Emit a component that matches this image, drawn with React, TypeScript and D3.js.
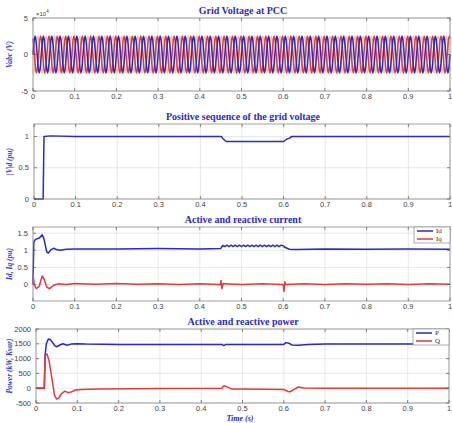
import { scaleLinear, line } from "d3";

// x axis (time, s)
const timeTicks = [0, 0.1, 0.2, 0.3, 0.4, 0.5, 0.6, 0.7, 0.8, 0.9, 1];

// grid voltage at PCC: one 50 Hz cycle (x10^4 V), tiled
const cycleCount = 50;
const vaCycle = [0, 1.25, 2.17, 2.5, 2.17, 1.25, 0, -1.25, -2.17, -2.5, -2.17, -1.25];
const phaseShift = [0, 4, 8];
const vabcTicks = [-5, 0, 5];

// positive sequence |V|d (pu)
const vdTime = [0, 0.022, 0.024, 0.04, 0.1, 0.45, 0.455, 0.462, 0.6, 0.604, 0.608, 0.613, 0.62, 1];
const vdVal = [0, 0, 1.0, 1.01, 1.0, 1.0, 0.96, 0.92, 0.92, 0.94, 0.96, 0.97, 1.0, 1.0];
const vdTicks = [0, 0.5, 1];

// Id, Iq (pu)
const idTime = [0, 0.002, 0.006, 0.015, 0.022, 0.026, 0.033, 0.037, 0.043, 0.05, 0.056, 0.065, 0.08, 0.1, 0.2, 0.3, 0.4, 0.45,
  0.455, 0.46, 0.465, 0.47, 0.475, 0.48, 0.485, 0.49, 0.495, 0.5, 0.505, 0.51, 0.515, 0.52, 0.525, 0.53, 0.535, 0.54,
  0.545, 0.55, 0.555, 0.56, 0.565, 0.57, 0.575, 0.58, 0.585, 0.59, 0.595, 0.6, 0.605, 0.615, 0.63, 0.7, 0.8, 0.9, 1];
const idVal = [0, 1.25, 1.32, 1.36, 1.45, 1.35, 0.95, 0.92, 1.02, 1.06, 1.02, 1.0, 1.03, 1.04, 1.04, 1.05, 1.04, 1.05,
  1.14, 1.11, 1.15, 1.11, 1.15, 1.11, 1.15, 1.11, 1.15, 1.11, 1.15, 1.11, 1.15, 1.11, 1.15, 1.11, 1.15, 1.11,
  1.15, 1.11, 1.15, 1.11, 1.15, 1.11, 1.15, 1.11, 1.15, 1.11, 1.15, 1.13, 1.08, 1.03, 1.02, 1.04, 1.03, 1.04, 1.03];
const iqTime = [0, 0.003, 0.008, 0.015, 0.022, 0.027, 0.033, 0.04, 0.05, 0.06, 0.08, 0.1, 0.15, 0.2, 0.25, 0.3, 0.35, 0.4,
  0.449, 0.451, 0.453, 0.456, 0.46, 0.5, 0.55, 0.6, 0.602, 0.604, 0.607, 0.65, 0.7, 0.75, 0.8, 0.85, 0.9, 0.95, 1];
const iqVal = [0.3, 0.0, -0.12, -0.05, 0.25, 0.15, -0.08, -0.12, -0.02, 0.02, 0.0, 0.03, 0.01, 0.03, 0.01, 0.02, 0.0, 0.02,
  0.0, 0.12, -0.12, 0.03, 0.02, 0.0, 0.02, 0.0, -0.2, 0.08, 0.0, 0.02, 0.0, 0.02, 0.01, 0.02, 0.0, 0.02, 0.01];
const iTicks = [0, 0.5, 1, 1.5];

// P (kW), Q (kvar)
const pTime = [0, 0.02, 0.022, 0.025, 0.03, 0.035, 0.045, 0.05, 0.058, 0.065, 0.075, 0.085, 0.1, 0.12, 0.2, 0.45, 0.455,
  0.46, 0.6, 0.605, 0.612, 0.62, 0.635, 0.66, 0.7, 1];
const pVal = [0, 0, 1100, 1500, 1660, 1640, 1450, 1400, 1460, 1500, 1450, 1490, 1500, 1490, 1480, 1480, 1440,
  1480, 1480, 1540, 1520, 1460, 1450, 1480, 1490, 1490];
const qTime = [0, 0.02, 0.022, 0.027, 0.032, 0.04, 0.045, 0.05, 0.055, 0.062, 0.07, 0.078, 0.085, 0.095, 0.11, 0.15, 0.3,
  0.45, 0.455, 0.46, 0.475, 0.5, 0.6, 0.61, 0.615, 0.625, 0.635, 0.65, 0.7, 1];
const qVal = [0, 0, 1100, 1150, 900, 200, -250, -370, -330, -180, -100, -150, -130, -60, -40, -25, -10,
  0, 80, 60, -30, -30, -40, -110, -120, -40, 40, 10, 0, 0];
const powerTicks = [-500, 0, 500, 1000, 1500, 2000];

const titleColor = "#2b2bd2";
const blue = "#2a2ac4";
const red = "#e23b3b";
const pale = "#f2c6a8";

type Series = { t: number[]; v: number[]; color: string; width?: number };

function Panel({ left, right, top, bottom, yDomain, yTicks, title, ylabel, series, legend, fmt }: {
  left: number; right: number; top: number; bottom: number; yDomain: number[]; yTicks: number[];
  title: string; ylabel: string; series: Series[]; legend?: { label: string; color: string }[];
  fmt?: (d: number) => string;
}) {
  const x = scaleLinear().domain([0, 1]).range([left, right]);
  const y = scaleLinear().domain(yDomain).range([bottom, top]);
  const f = fmt ?? ((d: number) => String(d));
  return (
    <g>
      <rect x={left} y={top} width={right - left} height={bottom - top} fill="white" />
      {timeTicks.map((t) => (
        <line key={"gx" + t} x1={x(t)} x2={x(t)} y1={top} y2={bottom} stroke="#e2e2e2" strokeWidth={0.8} />
      ))}
      {yTicks.map((t) => (
        <line key={"gy" + t} x1={left} x2={right} y1={y(t)} y2={y(t)} stroke="#e2e2e2" strokeWidth={0.8} />
      ))}
      {series.map((s, k) => {
        const pts = s.t.map((t, i) => [t, s.v[i]] as [number, number]);
        const d = line<[number, number]>().x((p) => x(p[0])).y((p) => y(p[1]))(pts) ?? "";
        return <path key={k} d={d} fill="none" stroke={s.color} strokeWidth={s.width ?? 1.5} strokeLinejoin="round" />;
      })}
      <rect x={left} y={top} width={right - left} height={bottom - top} fill="none" stroke="#8a8a8a" strokeWidth={0.8} />
      {timeTicks.map((t) => (
        <g key={"tx" + t}>
          <line x1={x(t)} x2={x(t)} y1={bottom} y2={bottom - 3} stroke="#555" strokeWidth={0.7} />
          <line x1={x(t)} x2={x(t)} y1={top} y2={top + 3} stroke="#555" strokeWidth={0.7} />
          <text x={x(t)} y={bottom + 8} textAnchor="middle" fontSize={7.5} fill="#444" fontFamily="Liberation Sans, sans-serif">
            {t}
          </text>
        </g>
      ))}
      {yTicks.map((t) => (
        <g key={"ty" + t}>
          <line x1={left} x2={left + 3} y1={y(t)} y2={y(t)} stroke="#555" strokeWidth={0.7} />
          <line x1={right} x2={right - 3} y1={y(t)} y2={y(t)} stroke="#555" strokeWidth={0.7} />
          <text x={left - 5} y={y(t)} dy="0.35em" textAnchor="end" fontSize={7.5} fill="#444" fontFamily="Liberation Sans, sans-serif">
            {f(t)}
          </text>
        </g>
      ))}
      <text x={243} y={top - 4} textAnchor="middle" fontSize={10} fontWeight="bold" fill={titleColor} fontFamily="Liberation Serif, serif">
        {title}
      </text>
      <text transform={`translate(${12},${(top + bottom) / 2}) rotate(-90)`} textAnchor="middle" fontSize={7.5}
        fontStyle="italic" fontWeight="bold" fill="#3a3ae0" fontFamily="Liberation Serif, serif">
        {ylabel}
      </text>
      {legend && (
        <g>
          <rect x={right - 36} y={top} width={36} height={legend.length * 8} fill="white" stroke="#8a8a8a" strokeWidth={0.7} />
          {legend.map((l, i) => (
            <g key={l.label}>
              <line x1={right - 33} x2={right - 17} y1={top + 4 + i * 8} y2={top + 4 + i * 8} stroke={l.color} strokeWidth={1.5} />
              <text x={right - 14} y={top + 4 + i * 8} dy="0.35em" fontSize={7} fill="#333" fontFamily="Liberation Serif, serif">
                {l.label}
              </text>
            </g>
          ))}
        </g>
      )}
    </g>
  );
}

export default function App() {
  // tile the cycle for the three phases
  const n = cycleCount * vaCycle.length;
  const vt: number[] = [];
  for (let i = 0; i <= n; i++) vt.push(i / n);
  const phases = phaseShift.map((s) => vt.map((_, i) => vaCycle[(i + s) % vaCycle.length]));

  return (
    <svg width={452} height={423} style={{ position: "absolute", left: 0, top: 0, background: "white" }}>
      <Panel left={33} right={450} top={18} bottom={91} yDomain={[-5, 5]} yTicks={vabcTicks}
        title="Grid Voltage at PCC" ylabel="Vabc (V)"
        series={[
          { t: vt, v: phases[2], color: pale, width: 1.6 },
          { t: vt, v: phases[1], color: red, width: 1.5 },
          { t: vt, v: phases[0], color: blue, width: 1.5 },
        ]} />
      <text x={36} y={16} fontSize={6} fill="#444" fontFamily="Liberation Sans, sans-serif">
        ×10<tspan dy={-3} fontSize={4.5}>4</tspan>
      </text>
      <Panel left={34} right={450} top={124} bottom={199} yDomain={[0, 1.2]} yTicks={vdTicks}
        title="Positive sequence of the grid voltage" ylabel="|V|d (pu)"
        series={[{ t: vdTime, v: vdVal, color: blue }]} />
      <Panel left={33} right={450} top={227} bottom={301} yDomain={[-0.48, 1.68]} yTicks={iTicks}
        title="Active and reactive current" ylabel="Id, Iq (pu)"
        series={[
          { t: idTime, v: idVal, color: blue },
          { t: iqTime, v: iqVal, color: red },
        ]}
        legend={[{ label: "Id", color: blue }, { label: "Iq", color: red }]} />
      <Panel left={36} right={449} top={329} bottom={403} yDomain={[-500, 2000]} yTicks={powerTicks}
        title="Active and reactive power" ylabel="Power (kW, Kvar)"
        series={[
          { t: pTime, v: pVal, color: blue },
          { t: qTime, v: qVal, color: red },
        ]}
        legend={[{ label: "P", color: blue }, { label: "Q", color: red }]} />
      <text x={240} y={421} textAnchor="middle" fontSize={8} fontStyle="italic" fontWeight="bold" fill={titleColor}
        fontFamily="Liberation Serif, serif">
        Time (s)
      </text>
    </svg>
  );
}
